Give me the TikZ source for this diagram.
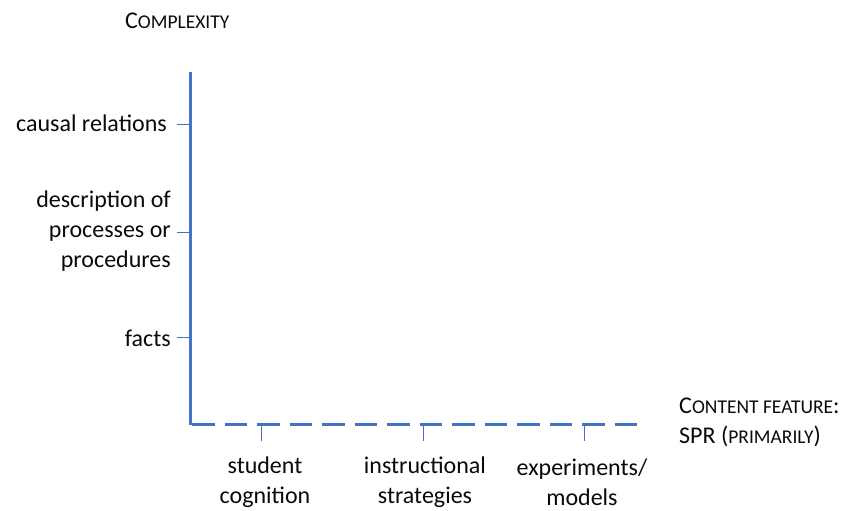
\documentclass[tikz,border=0pt]{standalone}
\usepackage{fontspec}
\setmainfont{Carlito}
\definecolor{axisblue}{RGB}{68,114,196}
\definecolor{txt}{RGB}{10,10,10}
\newcommand{\bigsc}[1]{{\fontsize{24}{30}\selectfont #1}}
\newcommand{\smsc}[1]{{\fontsize{19.5}{30}\selectfont #1}}
\begin{document}
\begin{tikzpicture}[x=1pt,y=1pt,
  lbl/.style={font=\fontsize{24}{30}\selectfont, text=txt, inner sep=0pt},
  axisline/.style={draw=axisblue, line width=3pt},
  dashaxis/.style={draw=axisblue, line width=3pt, dash pattern=on 22.5pt off 10pt},
  tickline/.style={draw=axisblue, line width=1pt}]
\useasboundingbox (0,0) rectangle (841,511);
% axes
\coordinate (top) at (190,439);
\coordinate (orig) at (190,86);
\coordinate (xend) at (638,86);
\draw[axisline] (top) -- (orig);
\draw[dashaxis] (192,86) -- (xend);
% y ticks
\coordinate (ty1) at (190,386);
\coordinate (ty2) at (190,278);
\coordinate (ty3) at (190,173);
\coordinate (ty1e) at (177,386);
\coordinate (ty2e) at (177,278);
\coordinate (ty3e) at (177,173);
\draw[tickline] (ty1) -- (ty1e);
\draw[tickline] (ty2) -- (ty2e);
\draw[tickline] (ty3) -- (ty3e);
% x ticks
\coordinate (tx1) at (261,86);
\coordinate (tx2) at (423,86);
\coordinate (tx3) at (584,86);
\coordinate (tx1e) at (261,70);
\coordinate (tx2e) at (423,70);
\coordinate (tx3e) at (584,70);
\draw[tickline] (tx1) -- (tx1e);
\draw[tickline] (tx2) -- (tx2e);
\draw[tickline] (tx3) -- (tx3e);
% labels
\node[lbl, anchor=east] (causal) at (167,388) {causal relations};
\node[lbl, anchor=east, align=right] (desc) at (171,280) {description of\\processes or\\procedures};
\node[lbl, anchor=east] (facts) at (171,173) {facts};
\node[lbl, align=center] (stud) at (265,29) {student\\cognition};
\node[lbl, align=center] (instr) at (425,29) {instructional\\strategies};
\node[lbl, align=center] (exper) at (582,29) {experiments/\\models};
\node[lbl, anchor=base west] (complexity) at (125,482) {\bigsc{C}\smsc{OMPLEXITY}};
\node[lbl, anchor=base west, align=left] (content) at (679,97) {\bigsc{C}\smsc{ONTENT FEATURE}\bigsc{:}};
\node[lbl, anchor=base west] (spr) at (679,67) {\bigsc{SPR (}\smsc{PRIMARILY}\bigsc{)}};
\end{tikzpicture}
\end{document}
